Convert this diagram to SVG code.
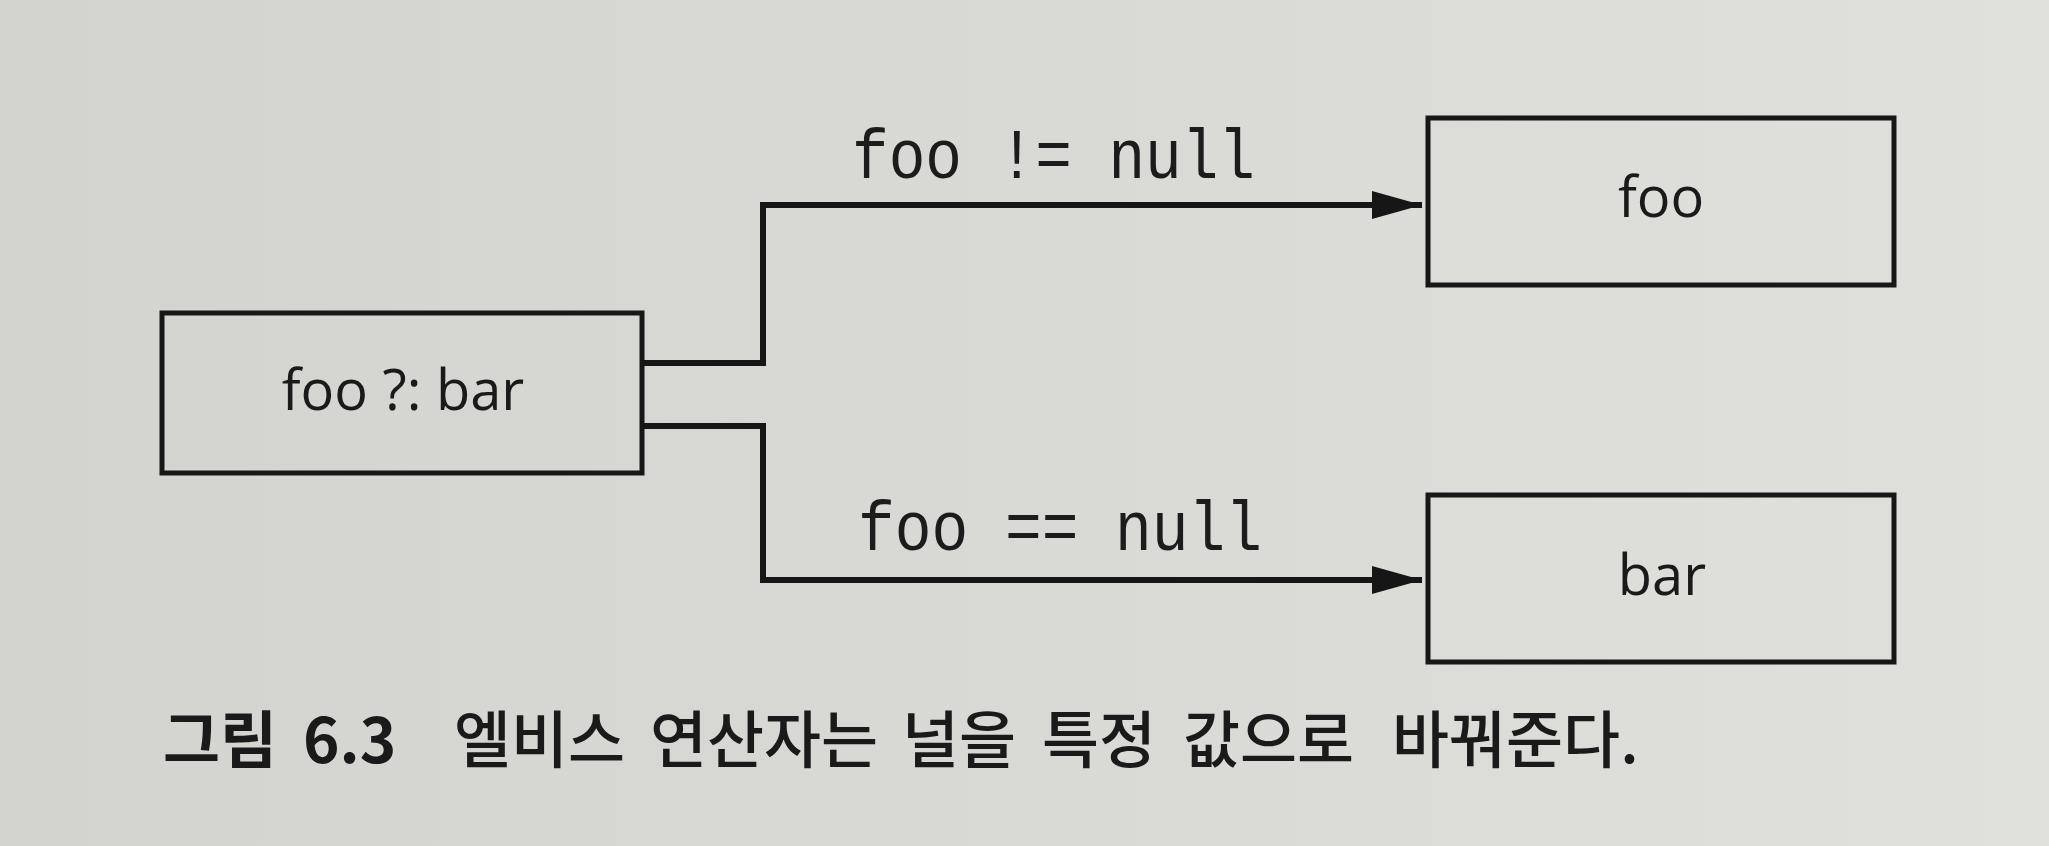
<svg xmlns="http://www.w3.org/2000/svg" width="2049" height="846" viewBox="0 0 2049 846">
  <defs>
    <linearGradient id="paper" x1="0" y1="0" x2="1" y2="0">
      <stop offset="0" stop-color="#d3d3cf"/>
      <stop offset="0.6" stop-color="#dadad6"/>
      <stop offset="1" stop-color="#e0e0dc"/>
    </linearGradient>
    <marker id="arrow" markerUnits="userSpaceOnUse" markerWidth="52" markerHeight="30" refX="50" refY="15" orient="auto">
      <path d="M0,1 L50,15 L0,29 z" fill="#161616"/>
    </marker>
  </defs>
  <style>
    .box { fill: none; stroke: #171717; stroke-width: 5; }
    .node { font-family: "Open Sans", "Noto Sans", "Liberation Sans", sans-serif; font-size: 56px; font-weight: 500; fill: #1a1a1a; text-anchor: middle; }
    .conn { fill: none; stroke: #161616; stroke-width: 6; }
    .lbl { font-family: "Liberation Mono", "DejaVu Sans Mono", monospace; font-size: 70px; fill: #1c1c1c; }
    .cap { font-family: "Noto Sans CJK KR", "Noto Sans", sans-serif; font-size: 62px; font-weight: 500; fill: #1a1a1a; }
    .capb { font-weight: 700; }
  </style>
  <rect x="0" y="0" width="2049" height="846" fill="url(#paper)"/>

  <g id="elvis">
    <rect class="box" x="162" y="313" width="480" height="160"/>
    <text class="node" x="403" y="410">foo ?: bar</text>
  </g>
  <g id="foo">
    <rect class="box" x="1428" y="118" width="466" height="167"/>
    <text class="node" x="1661" y="217">foo</text>
  </g>
  <g id="bar">
    <rect class="box" x="1428" y="495" width="466" height="167"/>
    <text class="node" x="1662" y="595">bar</text>
  </g>

  <g id="connectors">
    <path class="conn" d="M642,363 H763 V205 H1422" marker-end="url(#arrow)"/>
    <path class="conn" d="M642,426 H763 V580 H1422" marker-end="url(#arrow)"/>
    <text class="lbl" x="852" y="178" textLength="403" lengthAdjust="spacingAndGlyphs">foo != null</text>
    <text class="lbl" x="858" y="550" textLength="404" lengthAdjust="spacingAndGlyphs">foo == null</text>
  </g>

  <g id="caption">
    <text class="cap" y="763"><tspan class="capb" x="163">그림</tspan><tspan class="capb" x="303">6.3</tspan><tspan x="454">엘비스</tspan><tspan x="650">연산자는</tspan><tspan x="902">널을</tspan><tspan x="1042">특정</tspan><tspan x="1183">값으로</tspan><tspan x="1392">바꿔준다.</tspan></text>
  </g>
</svg>
